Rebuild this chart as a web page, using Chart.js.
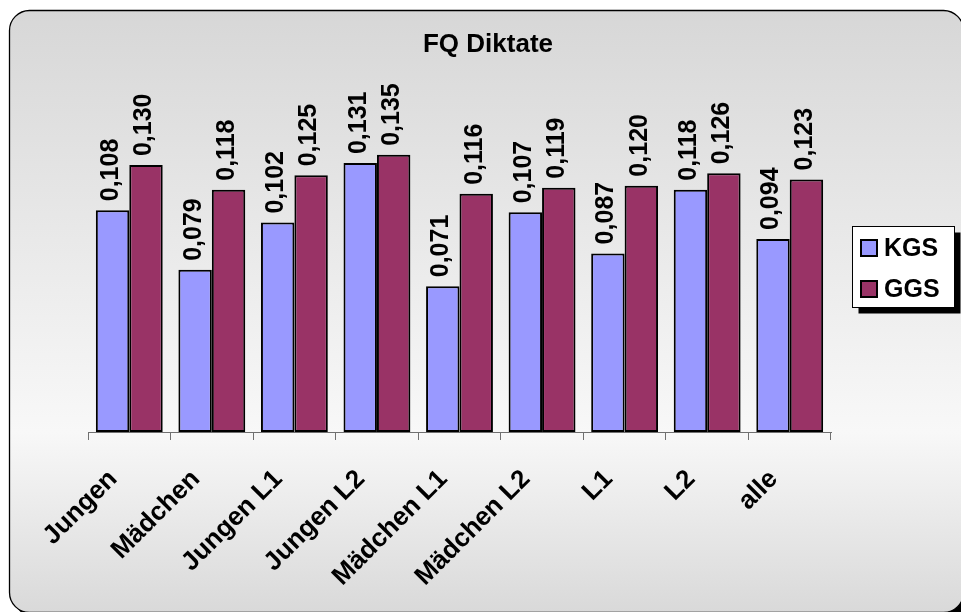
<!DOCTYPE html>
<html>
<head>
<meta charset="utf-8">
<script src="https://cdn.jsdelivr.net/npm/chart.js@4/dist/chart.umd.min.js"></script>
<style>
  html, body { margin: 0; padding: 0; background: #ffffff; }
  #c { display: block; }
</style>
</head>
<body>
<canvas id="c" width="961" height="612"></canvas>
<script>
// Chart content
const chartTitle = 'FQ Diktate';
const categories = ['Jungen', 'Mädchen', 'Jungen L1', 'Jungen L2', 'Mädchen L1', 'Mädchen L2', 'L1', 'L2', 'alle'];
const seriesNames = ['KGS', 'GGS'];
const kgsValues = [0.108, 0.079, 0.102, 0.131, 0.071, 0.107, 0.087, 0.118, 0.094];
const ggsValues = [0.130, 0.118, 0.125, 0.135, 0.116, 0.119, 0.120, 0.126, 0.123];
const seriesColors = ['#9999FF', '#993366'];

const FONT = '"Liberation Sans", Arial, sans-serif';

function roundRectPath(ctx, x, y, w, h, r) {
  ctx.beginPath();
  ctx.moveTo(x + r, y);
  ctx.lineTo(x + w - r, y);
  ctx.arcTo(x + w, y, x + w, y + r, r);
  ctx.lineTo(x + w, y + h - r);
  ctx.arcTo(x + w, y + h, x + w - r, y + h, r);
  ctx.lineTo(x + r, y + h);
  ctx.arcTo(x, y + h, x, y + h - r, r);
  ctx.lineTo(x, y + r);
  ctx.arcTo(x, y, x + r, y, r);
  ctx.closePath();
}

// Rounded panel with shadow and vertical gradient behind everything
const panelPlugin = {
  id: 'panel',
  beforeDraw(chart) {
    const ctx = chart.ctx;
    const x = 9.5, y = 10.5, w = 954, h = 602, r = 20;
    ctx.save();
    ctx.fillStyle = '#ffffff';
    ctx.fillRect(0, 0, chart.width, chart.height);
    roundRectPath(ctx, x + 5, y + 5, w, h, r);
    ctx.fillStyle = '#000000';
    ctx.fill();
    const g = ctx.createLinearGradient(0, y, 0, y + h);
    g.addColorStop(0, '#d7d7d7');
    g.addColorStop(0.70, '#f8f8f8');
    g.addColorStop(1, '#d9d9d9');
    roundRectPath(ctx, x, y, w, h, r);
    ctx.fillStyle = g;
    ctx.fill();
    ctx.lineWidth = 1.3;
    ctx.strokeStyle = '#000000';
    ctx.stroke();
    ctx.restore();
  }
};

// Title, rotated value labels and the framed legend
const annotatePlugin = {
  id: 'annotate',
  afterDatasetsDraw(chart) {
    const ctx = chart.ctx;
    ctx.save();
    ctx.fillStyle = '#000000';
    ctx.font = 'bold 25px ' + FONT;
    ctx.textAlign = 'left';
    ctx.textBaseline = 'middle';
    chart.data.datasets.forEach((ds, di) => {
      const meta = chart.getDatasetMeta(di);
      meta.data.forEach((bar, i) => {
        const txt = ds.data[i].toFixed(3).replace('.', ',');
        ctx.save();
        ctx.translate(bar.x - 1.5, bar.y - 9);
        ctx.rotate(-Math.PI / 2);
        ctx.fillText(txt, 0, 0);
        ctx.restore();
      });
    });
    ctx.restore();
  },
  afterDraw(chart) {
    const ctx = chart.ctx;
    ctx.save();
    // title
    ctx.fillStyle = '#000000';
    ctx.font = 'bold 26px ' + FONT;
    ctx.textAlign = 'center';
    ctx.textBaseline = 'middle';
    ctx.fillText(chartTitle, 488, 45);

    // legend box
    const lx = 852.5, ly = 226.5, lw = 102, lh = 81;
    ctx.fillStyle = '#000000';
    ctx.fillRect(lx + 6, ly + 6, lw, lh);
    ctx.fillStyle = '#ffffff';
    ctx.fillRect(lx, ly, lw, lh);
    ctx.lineWidth = 1;
    ctx.strokeStyle = '#000000';
    ctx.strokeRect(lx, ly, lw, lh);
    ctx.font = 'bold 25px ' + FONT;
    ctx.textAlign = 'left';
    ctx.textBaseline = 'middle';
    const rows = [248, 289];
    seriesNames.forEach((name, i) => {
      const cy = rows[i];
      ctx.fillStyle = seriesColors[i];
      ctx.fillRect(861, cy - 8, 16, 16);
      ctx.lineWidth = 2;
      ctx.strokeStyle = '#000000';
      ctx.strokeRect(861, cy - 8, 16, 16);
      ctx.fillStyle = '#000000';
      ctx.fillText(name, 884, cy + 1);
    });
    ctx.restore();
  }
};

new Chart(document.getElementById('c'), {
  type: 'bar',
  data: {
    labels: categories,
    datasets: [
      { label: seriesNames[0], data: kgsValues, backgroundColor: seriesColors[0] },
      { label: seriesNames[1], data: ggsValues, backgroundColor: seriesColors[1] }
    ]
  },
  options: {
    responsive: false,
    animation: false,
    devicePixelRatio: 1,
    layout: { padding: { left: 88, right: 130, top: 103.5, bottom: 0 } },
    datasets: {
      bar: {
        categoryPercentage: 0.81,
        barPercentage: 1.0,
        borderColor: '#000000',
        borderWidth: 2,
        borderSkipped: false
      }
    },
    plugins: {
      legend: { display: false },
      title: { display: false },
      tooltip: { enabled: false }
    },
    scales: {
      x: {
        grid: {
          offset: true,
          drawOnChartArea: false,
          drawTicks: true,
          tickLength: 8,
          color: '#707070'
        },
        border: { display: true, color: '#707070', width: 1 },
        ticks: {
          minRotation: 45,
          maxRotation: 45,
          autoSkip: false,
          padding: 24,
          labelOffset: -16,
          color: '#000000',
          font: { family: FONT, size: 26, weight: 'bold' }
        },
        afterFit(scale) { scale.height = 180; }
      },
      y: {
        display: false,
        min: 0,
        max: 0.16
      }
    }
  },
  plugins: [panelPlugin, annotatePlugin]
});
</script>
</body>
</html>
